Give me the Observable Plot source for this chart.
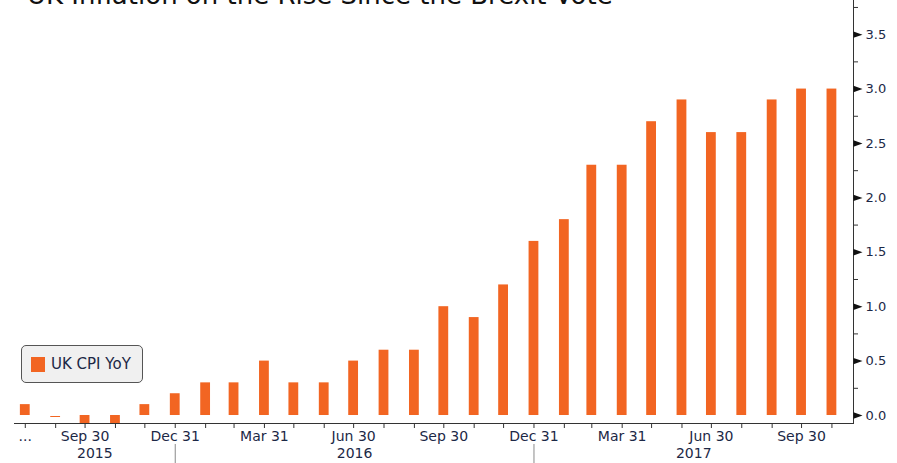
<!DOCTYPE html>
<html>
<head>
<meta charset="utf-8">
<script src="https://cdn.jsdelivr.net/npm/d3@7"></script>
<script src="https://cdn.jsdelivr.net/npm/@observablehq/plot@0.6"></script>
<style>
  html, body { margin: 0; padding: 0; background: #fff; overflow: hidden; }
  #wrap { position: relative; width: 897px; height: 463px; overflow: hidden; }
  #title {
    position: absolute; left: 27px; top: -18px; margin: 0;
    font: 26px/26px "DejaVu Sans", sans-serif; color: #111; white-space: nowrap;
  }
  #legend {
    position: absolute; left: 21px; top: 345px; width: 122px; height: 38px;
    box-sizing: border-box; border: 1.5px solid #555; border-radius: 5px;
    background: #f0f0f0; display: flex; align-items: center; padding-left: 9px;
    font: 15px "DejaVu Sans", sans-serif; color: #1c2846;
  }
  #legend .sw { width: 14px; height: 15px; background: #f26522; margin-right: 6px; }
</style>
</head>
<body>
<div id="wrap">
  <div id="chart"></div>
  <div id="title">UK Inflation on the Rise Since the Brexit Vote</div>
  <div id="legend"><span class="sw"></span><span>UK CPI YoY</span></div>
</div>
<script>
// Monthly UK CPI, year-on-year % change, plotted at each month end
const monthEnds = [
  "2015-07-31", "2015-08-31", "2015-09-30", "2015-10-31", "2015-11-30", "2015-12-31",
  "2016-01-31", "2016-02-29", "2016-03-31", "2016-04-30", "2016-05-31", "2016-06-30",
  "2016-07-31", "2016-08-31", "2016-09-30", "2016-10-31", "2016-11-30", "2016-12-31",
  "2017-01-31", "2017-02-28", "2017-03-31", "2017-04-30", "2017-05-31", "2017-06-30",
  "2017-07-31", "2017-08-31", "2017-09-30", "2017-10-31"
];
const cpiYoY = [
  0.1, 0.0, -0.1, -0.1, 0.1, 0.2,
  0.3, 0.3, 0.5, 0.3, 0.3, 0.5,
  0.6, 0.6, 1.0, 0.9, 1.2, 1.6,
  1.8, 2.3, 2.3, 2.7, 2.9, 2.6,
  2.6, 2.9, 3.0, 3.0
];
// Axis labels
const dateLabels = {
  "2015-07-31": "...",
  "2015-09-30": "Sep 30", "2015-12-31": "Dec 31",
  "2016-03-31": "Mar 31", "2016-06-30": "Jun 30", "2016-09-30": "Sep 30", "2016-12-31": "Dec 31",
  "2017-03-31": "Mar 31", "2017-06-30": "Jun 30", "2017-09-30": "Sep 30"
};
const yearBreaks = ["2015-12-31", "2016-12-31"];
const yMajor = [0, 0.5, 1, 1.5, 2, 2.5, 3, 3.5];
const yMinor = [0.25, 0.75, 1.25, 1.75, 2.25, 2.75, 3.25, 3.75];
const xDomain = ["2015-07-20", "2017-11-22"];
const yDomain = [-0.0735, 3.814];

const orange = "#f26522";
const labelColor = "#1c2846";
const parse = d3.utcParse("%Y-%m-%d");
const fmtKey = d3.utcFormat("%Y-%m-%d");

const data = monthEnds.map((d, i) => ({date: parse(d), value: cpiYoY[i]}));
const xStart = parse(xDomain[0]), xEnd = parse(xDomain[1]);
const breaks = yearBreaks.map(parse);
// Year captions sit midway between the frame edges and the year breaks
const bounds = [xStart, ...breaks, xEnd];
const yearMids = d3.pairs(bounds).map(([a, b]) => new Date((+a + +b) / 2));

// Right-pointing arrowhead used for the major value ticks
const arrowHead = {
  draw(ctx) {
    ctx.moveTo(0, -3.2);
    ctx.lineTo(9, 0);
    ctx.lineTo(0, 3.2);
    ctx.closePath();
  }
};

const chart = Plot.plot({
  width: 897,
  height: 463,
  marginLeft: 14,
  marginRight: 44,
  marginTop: 0,
  marginBottom: 40,
  style: {fontFamily: "'DejaVu Sans', sans-serif", background: "transparent"},
  x: {type: "utc", domain: [xStart, xEnd], axis: null},
  y: {domain: yDomain, axis: null},
  marks: [
    Plot.rectY(data.filter(d => d.value !== 0), {
      x1: d => d3.utcDay.offset(d.date, -5),
      x2: d => d3.utcDay.offset(d.date, 5),
      y1: 0,
      y2: "value",
      fill: orange,
      clip: true
    }),
    Plot.ruleY(data.filter(d => d.value === 0), {
      x1: d => d3.utcDay.offset(d.date, -5),
      x2: d => d3.utcDay.offset(d.date, 5),
      y: "value",
      dy: 1,
      stroke: orange,
      strokeWidth: 1
    }),
    Plot.frame({anchor: "bottom", stroke: "#333"}),
    Plot.frame({anchor: "right", stroke: "#333"}),
    // month ticks and quarter-end labels
    Plot.axisX({
      ticks: data.map(d => d.date),
      tickSize: 5,
      tickPadding: 3,
      tickFormat: d => dateLabels[fmtKey(d)] ?? "",
      fontSize: 14,
      label: null,
      stroke: "#333",
      fill: labelColor
    }),
    // year separators
    Plot.axisX({
      ticks: breaks,
      tickSize: 19,
      dy: 21,
      tickFormat: () => "",
      label: null,
      stroke: "#8a8a8a"
    }),
    // year captions
    Plot.axisX({
      ticks: yearMids,
      tickSize: 0,
      tickPadding: 25,
      tickFormat: d3.utcFormat("%Y"),
      fontSize: 14,
      label: null,
      fill: labelColor
    }),
    // value axis on the right
    Plot.axisY({
      anchor: "right",
      ticks: yMajor,
      tickSize: 0,
      tickPadding: 12,
      tickFormat: d3.format(".1f"),
      fontSize: 13,
      label: null,
      fill: labelColor
    }),
    Plot.axisY({
      anchor: "right",
      ticks: yMinor,
      tickSize: 4,
      tickFormat: () => "",
      label: null,
      stroke: "#333"
    }),
    Plot.dot(yMajor, {
      y: d => d,
      frameAnchor: "right",
      symbol: arrowHead,
      fill: "#111",
      stroke: "none",
      clip: false
    })
  ]
});

document.getElementById("chart").appendChild(chart);
</script>
</body>
</html>
